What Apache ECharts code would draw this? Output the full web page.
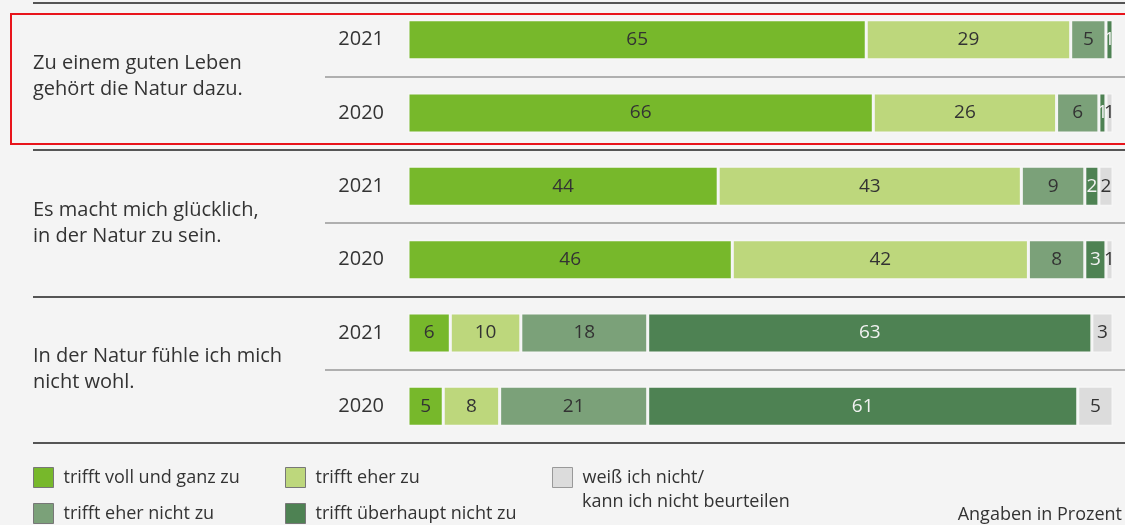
<!DOCTYPE html>
<html>
<head>
<meta charset="utf-8">
<script src="https://cdn.jsdelivr.net/npm/echarts@6/dist/echarts.min.js"></script>
<style>
html,body{margin:0;padding:0;background:#f4f4f4;}
#chart{width:1125px;height:525px;}
</style>
</head>
<body>
<div id="chart"></div>
<script>
const statements = [
  'Zu einem guten Leben\ngehört die Natur dazu.',
  'Es macht mich glücklich,\nin der Natur zu sein.',
  'In der Natur fühle ich mich\nnicht wohl.'
];
const years = ['2021', '2020', '2021', '2020', '2021', '2020'];
const rowIds = ['gut-2021', 'gut-2020', 'gluecklich-2021', 'gluecklich-2020', 'wohl-2021', 'wohl-2020'];
const answers = [
  'trifft voll und ganz zu',
  'trifft eher zu',
  'trifft eher nicht zu',
  'trifft überhaupt nicht zu',
  'weiß ich nicht/ kann ich nicht beurteilen'
];
const vollUndGanz = [65, 66, 44, 46, 6, 5];
const eher = [29, 26, 43, 42, 10, 8];
const eherNicht = [5, 6, 9, 8, 18, 21];
const ueberhauptNicht = [1, 1, 2, 3, 63, 61];
const weissNicht = [0, 1, 2, 1, 3, 5];
const seriesValues = [vollUndGanz, eher, eherNicht, ueberhauptNicht, weissNicht];
const colors = ['#77b82b', '#bdd77c', '#7ba179', '#4e8253', '#dcdcdc'];
const labelColors = ['#333', '#333', '#333', '#f2f2f2', '#333'];

const FONT = 'Open Sans';
const chart = echarts.init(document.getElementById('chart'));
const gridTop = 3, gridH = 440;

const legendBase = {
  orient: 'vertical', top: 467, padding: 0, height: 60,
  itemWidth: 20, itemHeight: 20, itemGap: 15, icon: 'rect', selectedMode: false,
  itemStyle: { borderColor: '#777', borderWidth: 1 },
  textStyle: { fontFamily: FONT, fontSize: 18, color: '#333', padding: [0, 0, 0, 5] }
};

const option = {
  backgroundColor: '#f4f4f4',
  animation: false,
  textStyle: { fontFamily: FONT },
  title: {
    text: 'Angaben in Prozent',
    right: 3, bottom: 0, padding: [0, 0, 1, 0],
    textStyle: { fontFamily: FONT, fontSize: 18, fontWeight: 'normal', color: '#333' }
  },
  grid: [
    { left: 33, right: 0, top: gridTop, height: gridH },
    { left: 325, right: 0, top: gridTop, height: gridH },
    { left: 408, right: 12, top: gridTop, height: gridH }
  ],
  xAxis: [
    { type: 'value', gridIndex: 0, show: false, min: 0, max: 1 },
    { type: 'value', gridIndex: 1, show: false, min: 0, max: 1 },
    { type: 'value', gridIndex: 2, show: false, min: 0, max: 100 }
  ],
  yAxis: [
    {
      type: 'category', gridIndex: 0, data: statements, inverse: true, z: 5,
      axisLine: { show: false }, axisTick: { show: false },
      axisLabel: { inside: true, margin: 0, align: 'left', fontFamily: FONT, fontSize: 20, lineHeight: 26, color: '#333' },
      splitLine: { show: true, lineStyle: { color: '#555', width: 2 } }
    },
    {
      type: 'category', gridIndex: 1, data: rowIds, inverse: true, z: 1,
      axisLine: { show: false }, axisTick: { show: false }, axisLabel: { show: false },
      splitLine: { show: true, interval: function (i) { return i % 2 === 1; }, lineStyle: { color: '#999', width: 1.5 } }
    },
    {
      type: 'category', gridIndex: 2, data: rowIds, inverse: true,
      axisLine: { show: false }, axisTick: { show: false }, splitLine: { show: false },
      axisLabel: {
        margin: 24, fontFamily: FONT, fontSize: 20, color: '#333',
        formatter: function (v, i) { return years[i]; }
      }
    }
  ],
  legend: [
    Object.assign({}, legendBase, { data: [answers[0], answers[2]], left: 33 }),
    Object.assign({}, legendBase, { data: [answers[1], answers[3]], left: 285 }),
    Object.assign({}, legendBase, {
      data: [answers[4]], left: 552,
      itemStyle: { borderColor: '#999', borderWidth: 1 },
      formatter: function () { return 'weiß ich nicht/'; }
    })
  ],
  graphic: [
    {
      type: 'text', left: 582, top: 493,
      style: { text: 'kann ich nicht beurteilen', font: '18px "' + FONT + '"', fill: '#333' }
    },
    {
      type: 'rect', shape: { x: 11, y: 14, width: 1130, height: 130 },
      style: { fill: 'none', stroke: '#e8141b', lineWidth: 2 }, z: 100
    }
  ],
  series: answers.map(function (name, k) {
    return {
      name: name, type: 'bar', stack: 'total', xAxisIndex: 2, yAxisIndex: 2,
      barWidth: 40, data: seriesValues[k],
      itemStyle: { color: colors[k], borderColor: '#f6f6f6', borderWidth: 1.5 },
      label: {
        show: true, position: 'inside', fontFamily: FONT, fontSize: 19, color: labelColors[k],
        formatter: function (p) { return p.value > 0 ? p.value : ''; }
      }
    };
  })
};
chart.setOption(option);
</script>
</body>
</html>
